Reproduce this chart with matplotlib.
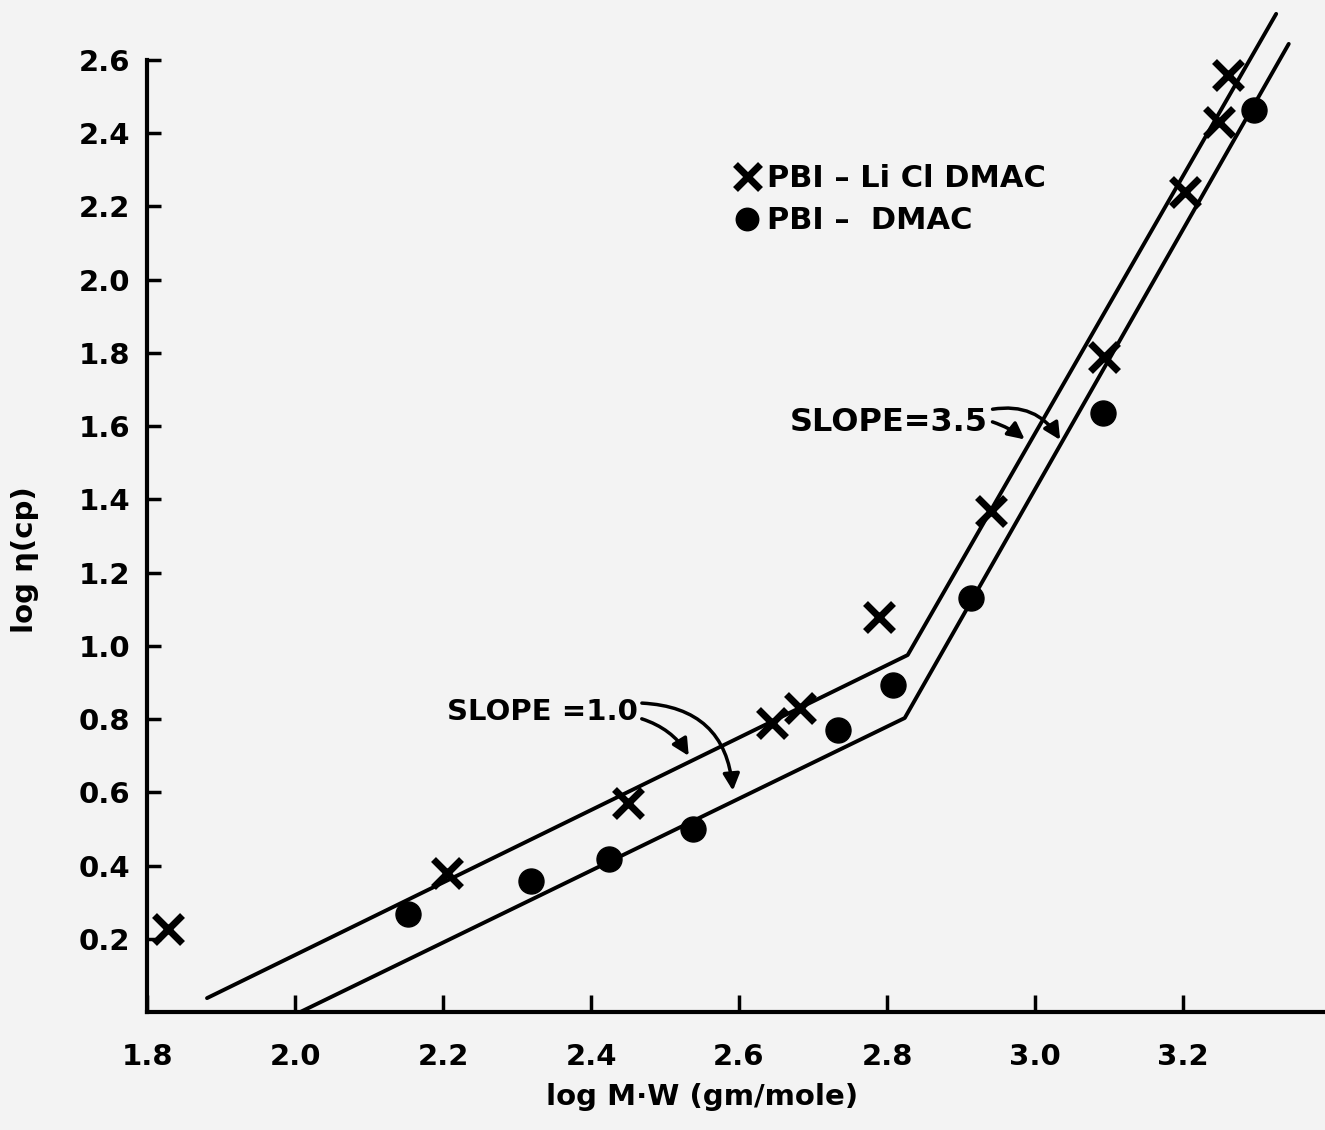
import numpy as np
import matplotlib.pyplot as plt

# PBI - LiCl DMAC (crosses)
licl_x = [1.828, 2.205, 2.45, 2.645, 2.683, 2.789, 2.94, 3.093, 3.203, 3.249, 3.261]
licl_y = [0.227, 0.381, 0.57, 0.79, 0.83, 1.08, 1.367, 1.79, 2.24, 2.43, 2.56]

# PBI - DMAC (dots)
dmac_x = [2.153, 2.319, 2.424, 2.538, 2.734, 2.808, 2.914, 3.092, 3.296]
dmac_y = [0.268, 0.359, 0.419, 0.499, 0.77, 0.893, 1.13, 1.636, 2.463]

# fitted lines (start, break, end)
upper_x = [1.881, 2.828, 3.326]
upper_y = [0.038, 0.975, 2.726]
lower_x = [2.007, 2.824, 3.343]
lower_y = [0.0, 0.803, 2.644]

xticks = [1.8, 2.0, 2.2, 2.4, 2.6, 2.8, 3.0, 3.2]
yticks = [0.2, 0.4, 0.6, 0.8, 1.0, 1.2, 1.4, 1.6, 1.8, 2.0, 2.2, 2.4, 2.6]

plt.rcParams['font.family'] = 'DejaVu Sans'
plt.rcParams['font.weight'] = 'bold'

bg = '#f3f3f3'
fig = plt.figure(figsize=(13.25, 11.3), dpi=100, facecolor=bg)
ax = fig.add_axes([0.111, 0.1044, 0.889, 0.8425])
ax.set_facecolor(bg)

ax.plot(upper_x, upper_y, color='black', lw=2.8, clip_on=False, solid_capstyle='round')
ax.plot(lower_x, lower_y, color='black', lw=2.8, clip_on=False, solid_capstyle='round')

ax.plot(licl_x, licl_y, ls='none', marker='x', ms=20, mew=5, color='black',
        clip_on=False, label='PBI – Li Cl DMAC')
ax.plot(dmac_x, dmac_y, ls='none', marker='o', ms=18, color='black',
        clip_on=False, label='PBI –  DMAC')

ax.set_xlim(1.8, 3.392)
ax.set_ylim(0, 2.6)

ax.set_xticks(xticks)
ax.set_xticklabels([f'{v:.1f}' for v in xticks])
ax.set_yticks(yticks)
ax.set_yticklabels([f'{v:.1f}' for v in yticks])
ax.tick_params(axis='x', direction='in', length=12, width=2.5, pad=22, labelsize=21)
ax.tick_params(axis='y', direction='in', length=10, width=2.5, pad=12, labelsize=21)

for s in ['top', 'right']:
    ax.spines[s].set_visible(False)
ax.spines['left'].set_linewidth(3)
ax.spines['bottom'].set_linewidth(3)

ax.set_xlabel('log M·W (gm/mole)', fontsize=21, fontweight='bold')
ax.xaxis.set_label_coords(0.471, -0.075)
ax.set_ylabel('log η(cp)', fontsize=21, fontweight='bold')
ax.yaxis.set_label_coords(-0.092, 0.475)

ax.legend(loc='upper left', bbox_to_anchor=(0.478, 0.92), frameon=False,
          fontsize=22, handlelength=0.6, handletextpad=0.35, labelspacing=0.45,
          markerscale=0.9)

# slope annotations
ax.text(2.669, 1.611, 'SLOPE=3.5', fontsize=23, fontweight='bold', va='center', ha='left')
ax.annotate('', xy=(3.036, 1.556), xytext=(2.939, 1.645),
            arrowprops=dict(arrowstyle='-|>', color='black', lw=2.5, mutation_scale=25,
                            connectionstyle='arc3,rad=-0.35'))
ax.annotate('', xy=(2.989, 1.559), xytext=(2.939, 1.614),
            arrowprops=dict(arrowstyle='-|>', color='black', lw=2.5, mutation_scale=25,
                            connectionstyle='arc3,rad=-0.1'))

ax.text(2.205, 0.819, 'SLOPE =1.0', fontsize=21, fontweight='bold', va='center', ha='left')
ax.annotate('', xy=(2.592, 0.597), xytext=(2.465, 0.844),
            arrowprops=dict(arrowstyle='-|>', color='black', lw=2.5, mutation_scale=25,
                            connectionstyle='arc3,rad=-0.45'))
ax.annotate('', xy=(2.534, 0.693), xytext=(2.465, 0.803),
            arrowprops=dict(arrowstyle='-|>', color='black', lw=2.5, mutation_scale=25,
                            connectionstyle='arc3,rad=-0.2'))

fig.savefig('out.png', dpi=100, facecolor=bg)
